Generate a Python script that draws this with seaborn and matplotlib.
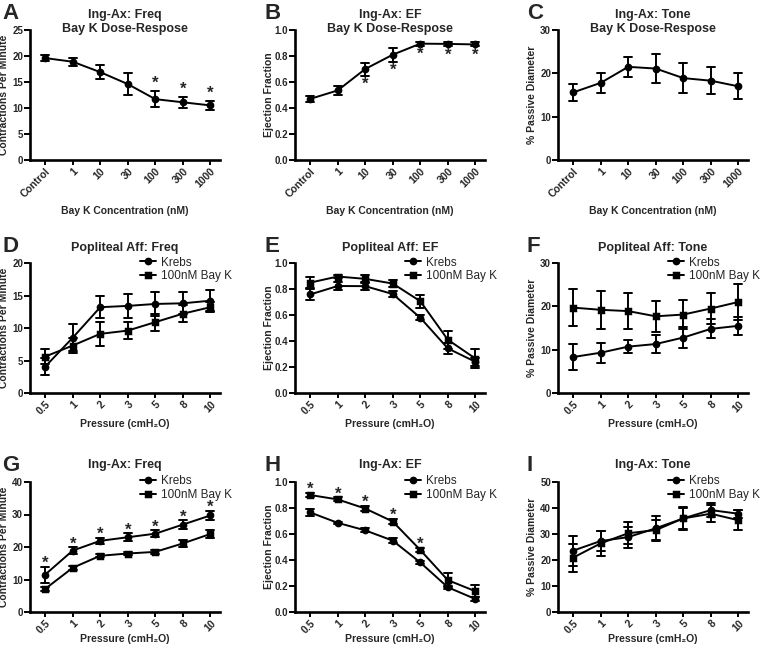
import numpy as np
import pandas as pd
import matplotlib
matplotlib.use("Agg")
import matplotlib.pyplot as plt
import seaborn as sns

# categories
DOSES = ["Control", "1", "10", "30", "100", "300", "1000"]
PRESSURES = ["0.5", "1", "2", "3", "5", "8", "10"]
SERIES = ["Krebs", "100nM Bay K"]

# A - Ing-Ax freq dose response
a_mean = [19.6, 18.9, 16.9, 14.6, 11.7, 11.1, 10.5]
a_err = [0.6, 0.8, 1.4, 2.1, 1.6, 1.1, 0.8]
a_sig = [0, 0, 0, 0, 1, 1, 1]

# B - Ing-Ax EF dose response
b_mean = [0.47, 0.535, 0.70, 0.81, 0.895, 0.893, 0.889]
b_err = [0.02, 0.035, 0.05, 0.055, 0.015, 0.018, 0.015]
b_sig = [0, 0, 1, 1, 1, 1, 1]

# C - Ing-Ax tone dose response
c_mean = [15.6, 17.8, 21.5, 21.1, 18.9, 18.3, 17.0]
c_err = [2.0, 2.3, 2.3, 3.3, 3.4, 3.1, 3.0]

# D - Popliteal freq
d_krebs = [4.05, 8.5, 13.2, 13.4, 13.7, 13.8, 14.2]
d_krebs_err = [1.35, 2.1, 1.7, 1.8, 1.8, 1.7, 1.65]
d_bayk = [5.6, 7.3, 9.1, 9.6, 10.9, 12.2, 13.2]
d_bayk_err = [1.2, 1.1, 1.9, 1.35, 1.3, 1.3, 0.8]

# E - Popliteal EF
e_krebs = [0.758, 0.823, 0.822, 0.761, 0.579, 0.343, 0.24]
e_krebs_err = [0.04, 0.03, 0.03, 0.02, 0.02, 0.04, 0.03]
e_bayk = [0.849, 0.896, 0.878, 0.842, 0.706, 0.41, 0.265]
e_bayk_err = [0.04, 0.015, 0.03, 0.03, 0.05, 0.07, 0.07]

# F - Popliteal tone
f_krebs = [8.3, 9.3, 10.7, 11.3, 12.8, 14.8, 15.5]
f_krebs_err = [3.1, 2.35, 1.5, 2.1, 2.4, 2.2, 2.0]
f_bayk = [19.7, 19.2, 18.9, 17.7, 18.1, 19.5, 21.0]
f_bayk_err = [4.3, 4.4, 4.1, 3.6, 3.4, 3.6, 4.1]

# G - Ing-Ax freq vs pressure
g_krebs = [11.5, 18.9, 21.9, 23.0, 24.1, 26.9, 29.7]
g_krebs_err = [2.5, 1.0, 1.0, 1.2, 1.0, 1.3, 1.4]
g_bayk = [7.1, 13.6, 17.3, 18.0, 18.5, 21.1, 24.0]
g_bayk_err = [0.7, 0.6, 0.4, 0.4, 0.5, 1.1, 1.1]
g_sig = [1, 1, 1, 1, 1, 1, 1]

# H - Ing-Ax EF vs pressure
h_krebs = [0.766, 0.686, 0.628, 0.549, 0.381, 0.19, 0.10]
h_krebs_err = [0.03, 0.01, 0.015, 0.02, 0.01, 0.01, 0.015]
h_bayk = [0.90, 0.866, 0.796, 0.696, 0.477, 0.245, 0.16]
h_bayk_err = [0.015, 0.015, 0.02, 0.02, 0.015, 0.055, 0.045]
h_sig = [1, 1, 1, 1, 1, 0, 0]

# I - Ing-Ax tone vs pressure
i_krebs = [23.6, 27.3, 28.8, 32.2, 36.0, 39.2, 37.8]
i_krebs_err = [5.8, 4.0, 4.0, 4.6, 4.0, 2.7, 1.5]
i_bayk = [20.9, 26.4, 30.3, 31.5, 36.0, 37.8, 35.3]
i_bayk_err = [5.4, 4.8, 4.3, 4.0, 4.4, 3.3, 3.8]

sns.set_style("ticks")
plt.rcParams["font.family"] = ["Liberation Sans", "DejaVu Sans"]
plt.rcParams["font.weight"] = "bold"

W, H = 760, 651
COL_LEFT = [30, 295, 558]
ROW_TOP = [30, 263, 482]
AX_W, AX_H = 190, 130


def long_frame(cats, series):
    # each point stored as (mean - sem, mean + sem) so seaborn's mean gives the point
    rows = []
    for name, means, errs in series:
        for cat, m, e in zip(cats, means, errs):
            rows.append({"x": cat, "y": m - e, "series": name})
            rows.append({"x": cat, "y": m + e, "series": name})
    return pd.DataFrame(rows)


def sem_range(v):
    return (v.min(), v.max())


def make_ax(row, col):
    left = COL_LEFT[col]
    top = ROW_TOP[row]
    return fig.add_axes([left / W, 1 - (top + AX_H) / H, AX_W / W, AX_H / H])


def style_ax(ax, cats, ymax, ystep, yfmt, title, xlabel, ylabel, pad, xpad):
    ax.set_xlim(-0.55, len(cats) - 0.65)
    ax.set_ylim(0, ymax)
    ticks = np.arange(0, ymax + ystep / 2, ystep)
    ax.set_yticks(ticks)
    ax.set_yticklabels([yfmt.format(t) for t in ticks], fontsize=7, fontweight="bold")
    ax.set_xticks(range(len(cats)))
    ax.set_xticklabels(cats, rotation=45, ha="right", rotation_mode="anchor",
                       fontsize=7.5, fontweight="bold")
    ax.tick_params(axis="y", direction="out", length=4, width=1.4, pad=1, color="black")
    ax.tick_params(axis="x", direction="out", length=3.5, width=1.4, pad=1, color="black")
    for s in ["top", "right"]:
        ax.spines[s].set_visible(False)
    for s in ["left", "bottom"]:
        ax.spines[s].set_linewidth(1.9)
        ax.spines[s].set_color("black")
    ax.set_xlabel(xlabel, fontsize=7.5, fontweight="bold", labelpad=xpad)
    ax.set_ylabel(ylabel, fontsize=7.5, fontweight="bold")
    ax.yaxis.set_label_coords(-21 / AX_W, 0.5)
    # explicit y keeps matplotlib from lifting the title above the axes top
    ax.set_title(title, fontsize=9, fontweight="bold", y=1.0, pad=pad, linespacing=1.2)


def draw(ax, cats, series):
    df = long_frame(cats, series)
    if len(series) == 1:
        sns.pointplot(data=df, x="x", y="y", order=cats, estimator="mean",
                      errorbar=sem_range, color="black", markers="o",
                      markersize=4.5, linewidth=1.4, capsize=0.3,
                      err_kws={"linewidth": 1.4}, ax=ax)
    else:
        sns.pointplot(data=df, x="x", y="y", hue="series", order=cats,
                      hue_order=SERIES, estimator="mean", errorbar=sem_range,
                      palette=["black", "black"], markers=["o", "s"],
                      linestyles=["-", "-"], dodge=False, markersize=4.5,
                      linewidth=1.4, capsize=0.3, err_kws={"linewidth": 1.4}, ax=ax)
        handles, labels = ax.get_legend_handles_labels()
        ax.legend(handles, labels, loc="upper left", bbox_to_anchor=(0.58, 1.05),
                  frameon=False, handlelength=1.3, handletextpad=0.5,
                  labelspacing=0.15, borderpad=0, borderaxespad=0,
                  prop={"weight": "normal", "size": 8.5})


def stars(ax, means, errs, sig, above=True, off=0):
    for i, (m, e, s) in enumerate(zip(means, errs, sig)):
        if not s:
            continue
        if above:
            ax.annotate("*", xy=(i, m + e), xytext=(0, off), textcoords="offset points",
                        ha="center", va="bottom", fontsize=12, fontweight="bold")
        else:
            ax.annotate("*", xy=(i, m - e), xytext=(0, -1), textcoords="offset points",
                        ha="center", va="top", fontsize=12, fontweight="bold")


fig = plt.figure(figsize=(W / 100, H / 100), dpi=100)

dose_x = "Bay K Concentration (nM)"
pres_x = "Pressure (cmH\u2082O)"
freq_y = "Contractions Per Minute"
ef_y = "Ejection Fraction"
tone_y = "% Passive Diameter"

# row 1
ax = make_ax(0, 0)
draw(ax, DOSES, [("Krebs", a_mean, a_err)])
stars(ax, a_mean, a_err, a_sig)
style_ax(ax, DOSES, 25, 5, "{:.0f}", "Ing-Ax: Freq\nBay K Dose-Respose", dose_x, freq_y, -1.5, 5)

ax = make_ax(0, 1)
draw(ax, DOSES, [("Krebs", b_mean, b_err)])
stars(ax, b_mean, b_err, b_sig, above=False)
style_ax(ax, DOSES, 1.0, 0.2, "{:.1f}", "Ing-Ax: EF\nBay K Dose-Respose", dose_x, ef_y, -1.5, 5)

ax = make_ax(0, 2)
draw(ax, DOSES, [("Krebs", c_mean, c_err)])
style_ax(ax, DOSES, 30, 10, "{:.0f}", "Ing-Ax: Tone\nBay K Dose-Respose", dose_x, tone_y, -1.5, 5)

# row 2
ax = make_ax(1, 0)
draw(ax, PRESSURES, [("Krebs", d_krebs, d_krebs_err), ("100nM Bay K", d_bayk, d_bayk_err)])
style_ax(ax, PRESSURES, 20, 5, "{:.0f}", "Popliteal Aff: Freq", pres_x, freq_y, 9, 1.5)

ax = make_ax(1, 1)
draw(ax, PRESSURES, [("Krebs", e_krebs, e_krebs_err), ("100nM Bay K", e_bayk, e_bayk_err)])
style_ax(ax, PRESSURES, 1.0, 0.2, "{:.1f}", "Popliteal Aff: EF", pres_x, ef_y, 9, 1.5)

ax = make_ax(1, 2)
draw(ax, PRESSURES, [("Krebs", f_krebs, f_krebs_err), ("100nM Bay K", f_bayk, f_bayk_err)])
style_ax(ax, PRESSURES, 30, 10, "{:.0f}", "Popliteal Aff: Tone", pres_x, tone_y, 9, 1.5)

# row 3
ax = make_ax(2, 0)
draw(ax, PRESSURES, [("Krebs", g_krebs, g_krebs_err), ("100nM Bay K", g_bayk, g_bayk_err)])
stars(ax, g_krebs, g_krebs_err, g_sig, off=-3)
style_ax(ax, PRESSURES, 40, 10, "{:.0f}", "Ing-Ax: Freq", pres_x, freq_y, 10, -1)

ax = make_ax(2, 1)
draw(ax, PRESSURES, [("Krebs", h_krebs, h_krebs_err), ("100nM Bay K", h_bayk, h_bayk_err)])
stars(ax, h_bayk, h_bayk_err, h_sig, off=-3)
style_ax(ax, PRESSURES, 1.0, 0.2, "{:.1f}", "Ing-Ax: EF", pres_x, ef_y, 10, -1)

ax = make_ax(2, 2)
draw(ax, PRESSURES, [("Krebs", i_krebs, i_krebs_err), ("100nM Bay K", i_bayk, i_bayk_err)])
style_ax(ax, PRESSURES, 50, 10, "{:.0f}", "Ing-Ax: Tone", pres_x, tone_y, 10, -1)

# panel letters
letter_x = [2, 264, 527]
letter_y = [3, 236, 455]
for r, row in enumerate(["ABC", "DEF", "GHI"]):
    for c, letter in enumerate(row):
        fig.text(letter_x[c] / W, 1 - letter_y[r] / H, letter, fontsize=16,
                 fontweight="bold", va="top", ha="left")

fig.savefig("out.png", dpi=100)
